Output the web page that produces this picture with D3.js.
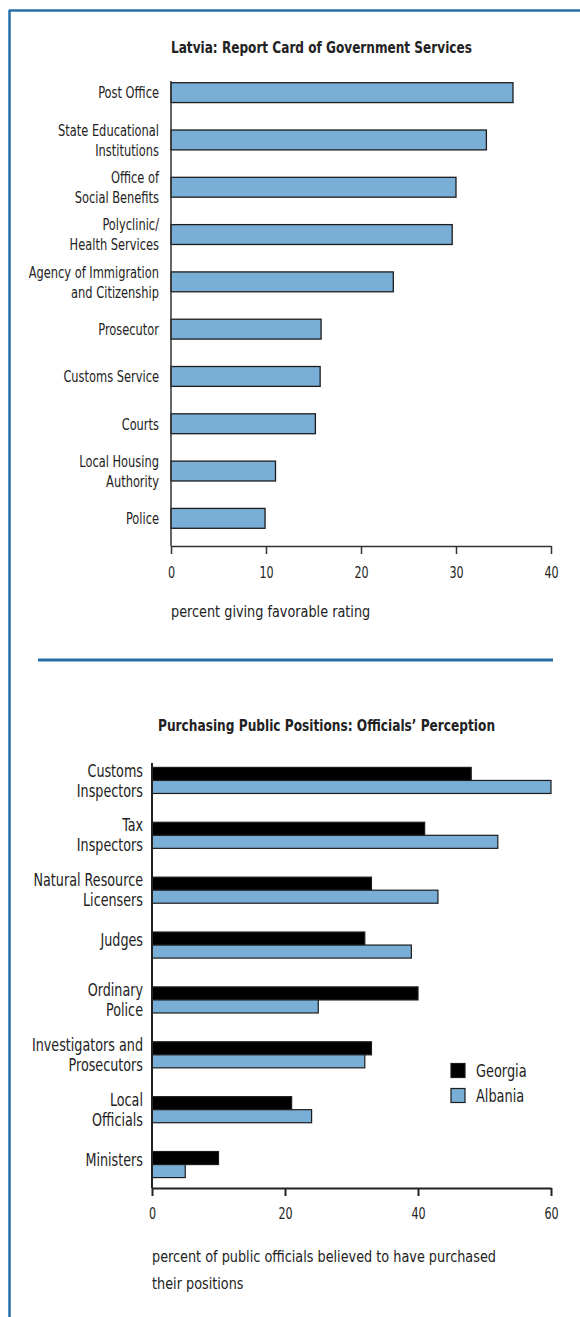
<!DOCTYPE html>
<html><head><meta charset="utf-8">
<script src="https://cdn.jsdelivr.net/npm/d3@7"></script>
<style>
body{margin:0;background:#fff}
text{font-family:"Liberation Sans Narrow","DejaVu Sans Condensed","Roboto Condensed",sans-serif;fill:#222}
</style></head>
<body><svg id="c" width="580" height="1317"></svg>
<script>
const latviaTitle = "Latvia: Report Card of Government Services";
const latviaCategories = ["Post Office","State Educational|Institutions","Office of|Social Benefits","Polyclinic/|Health Services","Agency of Immigration|and Citizenship","Prosecutor","Customs Service","Courts","Local Housing|Authority","Police"];
const latviaValues = [36, 33.2, 30, 29.6, 23.4, 15.8, 15.7, 15.2, 11, 9.9];
const latviaTicks = [0, 10, 20, 30, 40];
const latviaAxisTitle = "percent giving favorable rating";

const purchTitle = "Purchasing Public Positions: Officials’ Perception";
const purchCategories = ["Customs|Inspectors","Tax|Inspectors","Natural Resource|Licensers","Judges","Ordinary|Police","Investigators and|Prosecutors","Local|Officials","Ministers"];
const seriesNames = ["Georgia", "Albania"];
const georgiaValues = [48, 41, 33, 32, 40, 33, 21, 10];
const albaniaValues = [60, 52, 43, 39, 25, 32, 24, 5];
const purchTicks = [0, 20, 40, 60];
const purchAxisTitle = ["percent of public officials believed to have purchased", "their positions"];

const BLUE = "#79aed6", BORDER = "#2570aa", INK = "#1c1c1c";
const svg = d3.select("#c");
svg.append("rect").attr("width",580).attr("height",1317).attr("fill","#fff");

// horizontally condense text to mimic the narrow face of the original
function cz(sel, k){
  sel.each(function(){
    const L = this.getComputedTextLength();
    d3.select(this).attr("textLength", L*k).attr("lengthAdjust","spacingAndGlyphs");
  });
}

// frame
svg.append("line").attr("x1",9).attr("x2",580).attr("y1",10.5).attr("y2",10.5).attr("stroke",BORDER).attr("stroke-width",2.5);
svg.append("line").attr("x1",9.5).attr("x2",9.5).attr("y1",10).attr("y2",1317).attr("stroke",BORDER).attr("stroke-width",2.5);
svg.append("line").attr("x1",38).attr("x2",553).attr("y1",660).attr("y2",660).attr("stroke",BORDER).attr("stroke-width",3);

function labels(g, cats, yS, xRight, size, k, off1){
  cats.forEach(c => {
    const lines = c.split("|");
    const cy = yS(c) + yS.bandwidth()/2;
    lines.forEach((l,i) => {
      const dy = lines.length === 1 ? off1 : (i === 0 ? -10 : 10);
      const t = g.append("text").attr("text-anchor","end").attr("font-size",size)
        .attr("x", xRight).attr("y", cy + dy).attr("dy","0.35em").text(l);
      cz(t, k);
    });
  });
}

// ---------- Chart 1 ----------
{
  const g = svg.append("g");
  const x = d3.scaleLinear().domain([0,40]).range([171,551]);
  const y = d3.scaleBand().domain(latviaCategories).range([69,542]).paddingInner(0.58).paddingOuter(0.29);
  const axisY = 546;
  cz(g.append("text").attr("x",171).attr("y",53).attr("font-size",16.5).attr("font-weight","bold").text(latviaTitle), 0.815);
  g.selectAll("rect.bar").data(latviaValues).join("rect").attr("class","bar")
    .attr("x", x(0)).attr("y", (d,i) => y(latviaCategories[i]))
    .attr("width", d => x(d) - x(0)).attr("height", y.bandwidth())
    .attr("fill", BLUE).attr("stroke", INK).attr("stroke-width", 1.3);
  labels(g, latviaCategories, y, 159, 16.5, 0.77, 0);
  const ax = g.append("g").attr("transform",`translate(0,${axisY})`)
    .call(d3.axisBottom(x).tickValues(latviaTicks).tickSize(8).tickSizeOuter(0).tickPadding(12).tickFormat(d3.format("d")));
  ax.select(".domain").attr("stroke","#333").attr("stroke-width",1.5);
  ax.selectAll(".tick line").attr("stroke","#333").attr("stroke-width",1.5);
  ax.selectAll(".tick text").attr("font-size",16.5).attr("font-family",null).style("fill","#222");
  cz(ax.selectAll(".tick text"), 0.75);
  g.append("line").attr("x1",x(0)).attr("x2",x(0)).attr("y1",y.range()[0]+12).attr("y2",axisY).attr("stroke","#333").attr("stroke-width",1.5);
  cz(g.append("text").attr("x",171).attr("y",617).attr("font-size",16.5).text(latviaAxisTitle), 0.865);
}

// ---------- Chart 2 ----------
{
  const g = svg.append("g");
  const x = d3.scaleLinear().domain([0,60]).range([152,551]);
  const y = d3.scaleBand().domain(purchCategories).range([753,1192]).paddingInner(0.525).paddingOuter(0.2625);
  const ys = d3.scaleBand().domain(seriesNames).range([0, y.bandwidth()]);
  const color = d3.scaleOrdinal().domain(seriesNames).range(["#000", BLUE]);
  const axisY = 1188;
  cz(g.append("text").attr("x",158).attr("y",731).attr("font-size",16.5).attr("font-weight","bold").text(purchTitle), 0.82);
  const rows = purchCategories.map((c,i) => ({c, vals: [georgiaValues[i], albaniaValues[i]]}));
  const gr = g.selectAll("g.grp").data(rows).join("g").attr("class","grp").attr("transform", d => `translate(0,${y(d.c)})`);
  gr.selectAll("rect").data(d => d.vals.map((v,j) => ({s: seriesNames[j], v}))).join("rect")
    .attr("x", x(0)).attr("y", d => ys(d.s)).attr("width", d => x(d.v) - x(0)).attr("height", ys.bandwidth())
    .attr("fill", d => color(d.s)).attr("stroke", INK).attr("stroke-width", 1.2);
  labels(g, purchCategories, y, 143, 17.5, 0.81, -5);
  const ax = g.append("g").attr("transform",`translate(0,${axisY})`)
    .call(d3.axisBottom(x).tickValues(purchTicks).tickSize(8).tickSizeOuter(0).tickPadding(11).tickFormat(d3.format("d")));
  ax.select(".domain").attr("stroke","#222").attr("stroke-width",2);
  ax.selectAll(".tick line").attr("stroke","#222").attr("stroke-width",2);
  ax.selectAll(".tick text").attr("font-size",16.5).attr("font-family",null).style("fill","#222");
  cz(ax.selectAll(".tick text"), 0.75);
  g.append("line").attr("x1",x(0)).attr("x2",x(0)).attr("y1",y.range()[0]+10).attr("y2",axisY).attr("stroke","#222").attr("stroke-width",2);
  purchAxisTitle.forEach((t,i) => cz(g.append("text").attr("x",152).attr("y",1262 + i*27).attr("font-size",16.5).text(t), 0.865));
  // legend
  const ly = d3.scaleBand().domain(seriesNames).range([1058,1108]).paddingInner(0.4).paddingOuter(0.2);
  const lg = g.append("g");
  seriesNames.forEach(s => {
    lg.append("rect").attr("x",451).attr("y", ly(s)+ly.bandwidth()/2-7).attr("width",14).attr("height",14)
      .attr("fill", color(s)).attr("stroke", INK).attr("stroke-width",1.2);
    cz(lg.append("text").attr("x",476).attr("y", ly(s)+ly.bandwidth()/2).attr("dy","0.35em").attr("font-size",17.5).text(s), 0.82);
  });
}
</script>
</body></html>
